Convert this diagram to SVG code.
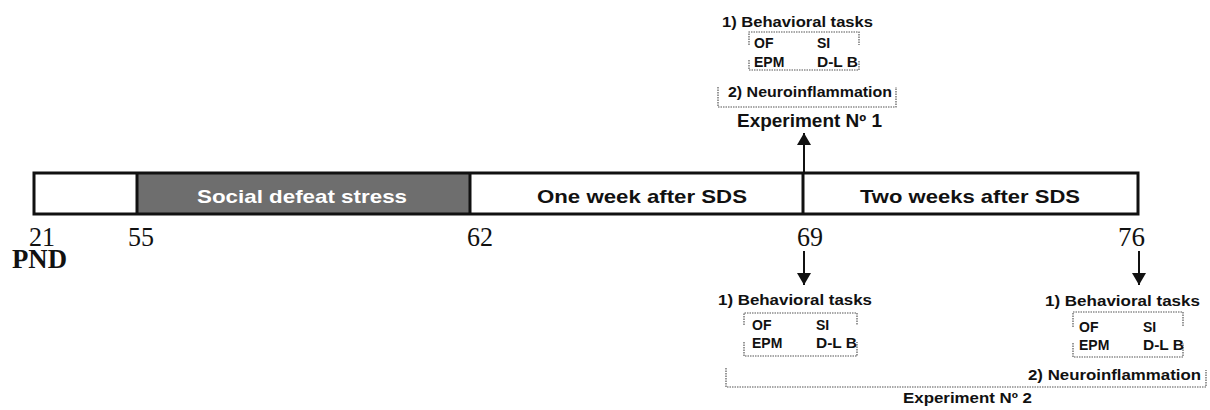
<svg xmlns="http://www.w3.org/2000/svg" width="1210" height="410" viewBox="0 0 1210 410">
<style>
.lbl{font-family:"Liberation Sans",Arial,sans-serif;font-weight:bold;fill:#111}
.sm{font-size:14px}
.num{font-family:"Liberation Serif","Times New Roman",serif;font-size:27px;fill:#111}
.dot{fill:none;stroke:#555;stroke-width:1.2;stroke-dasharray:1.5 1}
.ln{stroke:#111;stroke-width:2;fill:none}
</style>
<defs>
<marker id="ah" viewBox="0 0 12 14" refX="12" refY="7" markerWidth="12" markerHeight="14" markerUnits="userSpaceOnUse" orient="auto">
<path d="M0,0 L12,7 L0,14 Z" fill="#111"/>
</marker>
</defs>
<rect width="1210" height="410" fill="#fff"/>

<g id="timeline">
<rect x="137" y="173" width="333" height="41" fill="#6e6e6e"/>
<rect x="34" y="173" width="1104" height="41" fill="none" stroke="#111" stroke-width="3"/>
<line x1="137" y1="173" x2="137" y2="214" stroke="#111" stroke-width="3"/>
<line x1="470" y1="173" x2="470" y2="214" stroke="#111" stroke-width="3"/>
<line x1="803" y1="173" x2="803" y2="214" stroke="#111" stroke-width="3"/>
<text class="lbl" x="302" y="203" font-size="19" text-anchor="middle" style="fill:#fff" textLength="210" lengthAdjust="spacingAndGlyphs">Social defeat stress</text>
<text class="lbl" x="642" y="203" font-size="19" text-anchor="middle" textLength="210" lengthAdjust="spacingAndGlyphs">One week after SDS</text>
<text class="lbl" x="970" y="203" font-size="19" text-anchor="middle" textLength="220" lengthAdjust="spacingAndGlyphs">Two weeks after SDS</text>
</g>

<g id="axis-labels">
<text class="num" x="29" y="246" textLength="26" lengthAdjust="spacingAndGlyphs">21</text>
<text class="num" x="128" y="246" textLength="26" lengthAdjust="spacingAndGlyphs">55</text>
<text class="num" x="467" y="246" textLength="26" lengthAdjust="spacingAndGlyphs">62</text>
<text class="num" x="797" y="246" textLength="26" lengthAdjust="spacingAndGlyphs">69</text>
<text class="num" x="1118" y="246" textLength="27" lengthAdjust="spacingAndGlyphs">76</text>
<text class="num" x="12" y="268" font-size="24" font-weight="bold" textLength="55" lengthAdjust="spacingAndGlyphs">PND</text>
</g>

<g id="connectors">
<line class="ln" x1="804" y1="172" x2="804" y2="133" marker-end="url(#ah)"/>
<line class="ln" x1="804" y1="251" x2="804" y2="285" marker-end="url(#ah)"/>
<line class="ln" x1="1139" y1="251" x2="1139" y2="285" marker-end="url(#ah)"/>
</g>

<g id="experiment1">
<text class="lbl" x="722" y="27" font-size="15" textLength="151" lengthAdjust="spacingAndGlyphs">1) Behavioral tasks</text>
<path class="dot" d="M749,45 V32 H859 V45 M749,60 V70 H859 V60"/>
<text class="lbl sm" x="754" y="48">OF</text>
<text class="lbl sm" x="817" y="48">SI</text>
<text class="lbl sm" x="754" y="67">EPM</text>
<text class="lbl sm" x="817" y="67" textLength="41" lengthAdjust="spacingAndGlyphs">D-L B</text>
<path class="dot" d="M718,87 V107 H896 V87"/>
<text class="lbl" x="728" y="97" font-size="14.5" textLength="164" lengthAdjust="spacingAndGlyphs">2) Neuroinflammation</text>
<text class="lbl" x="737" y="127" font-size="18" textLength="145" lengthAdjust="spacingAndGlyphs">Experiment Nº 1</text>
</g>

<g id="experiment2-day69">
<text class="lbl" x="718" y="305" font-size="15" textLength="154" lengthAdjust="spacingAndGlyphs">1) Behavioral tasks</text>
<path class="dot" d="M744,325 V313 H857 V325 M744,342 V356 H857 V342"/>
<text class="lbl sm" x="752" y="330">OF</text>
<text class="lbl sm" x="816" y="330">SI</text>
<text class="lbl sm" x="752" y="348">EPM</text>
<text class="lbl sm" x="816" y="348" textLength="41" lengthAdjust="spacingAndGlyphs">D-L B</text>
</g>

<g id="experiment2-day76">
<text class="lbl" x="1045" y="306" font-size="15" textLength="155" lengthAdjust="spacingAndGlyphs">1) Behavioral tasks</text>
<path class="dot" d="M1073,327 V312 H1183 V327 M1073,343 V357 H1183 V343"/>
<text class="lbl sm" x="1079" y="332">OF</text>
<text class="lbl sm" x="1143" y="332">SI</text>
<text class="lbl sm" x="1079" y="350">EPM</text>
<text class="lbl sm" x="1143" y="350" textLength="41" lengthAdjust="spacingAndGlyphs">D-L B</text>
</g>

<g id="experiment2">
<path class="dot" d="M726,368 V387 H1206 V370"/>
<text class="lbl" x="1028" y="380" font-size="14.5" textLength="173" lengthAdjust="spacingAndGlyphs">2) Neuroinflammation</text>
<text class="lbl" x="903" y="403" font-size="15" textLength="129" lengthAdjust="spacingAndGlyphs">Experiment Nº 2</text>
</g>
</svg>
